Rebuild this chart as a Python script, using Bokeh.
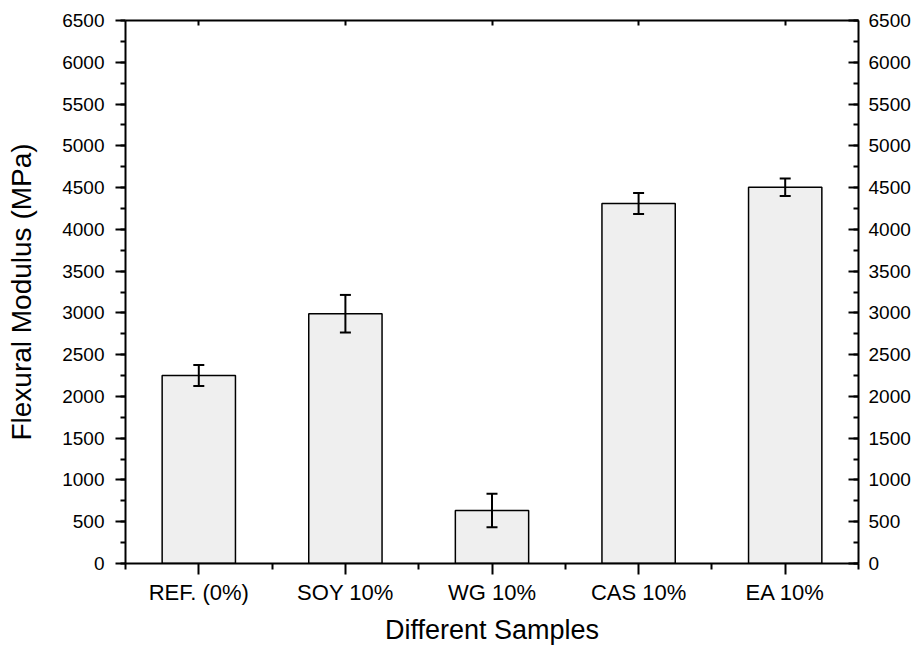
from bokeh.plotting import figure
from bokeh.models import (ColumnDataSource, Range1d, LinearAxis, FixedTicker,
                          SingleIntervalTicker, Whisker, TeeHead)
from bokeh.embed import file_html
from bokeh.resources import INLINE

# ---- data ----
categories = ["REF. (0%)", "SOY 10%", "WG 10%", "CAS 10%", "EA 10%"]
modulus = [2250, 2990, 635, 4310, 4505]
errors = [125, 225, 200, 125, 105]
x_pos = [1, 2, 3, 4, 5]
x_minor = [0.5, 1.5, 2.5, 3.5, 4.5, 5.5]

FONT = "Liberation Sans"

src = ColumnDataSource(dict(
    x=x_pos, top=modulus,
    upper=[v + e for v, e in zip(modulus, errors)],
    lower=[v - e for v, e in zip(modulus, errors)],
))

p = figure(width=913, height=647, output_backend="svg", toolbar_location=None,
           x_range=Range1d(0.5, 5.5), y_range=Range1d(0, 6500),
           x_axis_location=None, y_axis_location=None,
           min_border_left=125, min_border_right=54,
           min_border_top=20, min_border_bottom=84)
p.background_fill_color = "white"
p.border_fill_color = "white"
p.outline_line_color = None
p.xgrid.visible = False
p.ygrid.visible = False

p.vbar(x="x", top="top", width=0.5, source=src, fill_color="#efefef",
       line_color="black", line_width=1.5)

w = Whisker(base="x", upper="upper", lower="lower", source=src,
            line_color="black", line_width=2, level="overlay",
            upper_head=TeeHead(size=11, line_width=2, line_color="black"),
            lower_head=TeeHead(size=11, line_width=2, line_color="black"))
p.add_layout(w)

xticker = FixedTicker(ticks=x_pos, minor_ticks=x_minor)
yticker = SingleIntervalTicker(interval=500, num_minor_ticks=2)


def style(ax):
    ax.axis_line_width = 2
    ax.axis_line_color = "black"
    ax.major_tick_line_width = 2
    ax.minor_tick_line_width = 2
    ax.major_tick_line_color = "black"
    ax.minor_tick_line_color = "black"
    ax.major_label_text_font = FONT
    ax.major_label_text_color = "black"
    ax.axis_label_text_font = FONT
    ax.axis_label_text_font_style = "normal"
    ax.axis_label_text_color = "black"


# bottom axis
xb = LinearAxis(ticker=xticker, axis_label="Different Samples")
style(xb)
xb.major_label_overrides = {x: c for x, c in zip(x_pos, categories)}
xb.major_tick_out = 11
xb.major_tick_in = 0
xb.minor_tick_out = 6
xb.minor_tick_in = 0
xb.major_label_text_font_size = "22px"
xb.major_label_standoff = 5
xb.axis_label_text_font_size = "27px"
xb.axis_label_standoff = 7
p.add_layout(xb, "below")

# top axis
xt = LinearAxis(ticker=FixedTicker(ticks=x_pos, minor_ticks=[]))
style(xt)
xt.major_tick_out = 0
xt.major_tick_in = 5
xt.major_label_text_font_size = "0px"
xt.major_label_standoff = 0
xt.major_label_text_alpha = 0
p.add_layout(xt, "above")

# left axis
yl = LinearAxis(ticker=yticker, axis_label="Flexural Modulus (MPa)")
style(yl)
yl.major_tick_out = 10
yl.major_tick_in = 0
yl.minor_tick_out = 5
yl.minor_tick_in = 0
yl.major_label_text_font_size = "19px"
yl.major_label_standoff = 11
yl.axis_label_text_font_size = "28px"
yl.axis_label_standoff = 22
p.add_layout(yl, "left")

# right axis
yr = LinearAxis(ticker=yticker)
style(yr)
yr.major_tick_out = 0
yr.major_tick_in = 10
yr.minor_tick_out = 0
yr.minor_tick_in = 5
yr.major_label_text_font_size = "19px"
yr.major_label_standoff = 10
p.add_layout(yr, "right")

open("out.html", "w").write(file_html(p, INLINE))
